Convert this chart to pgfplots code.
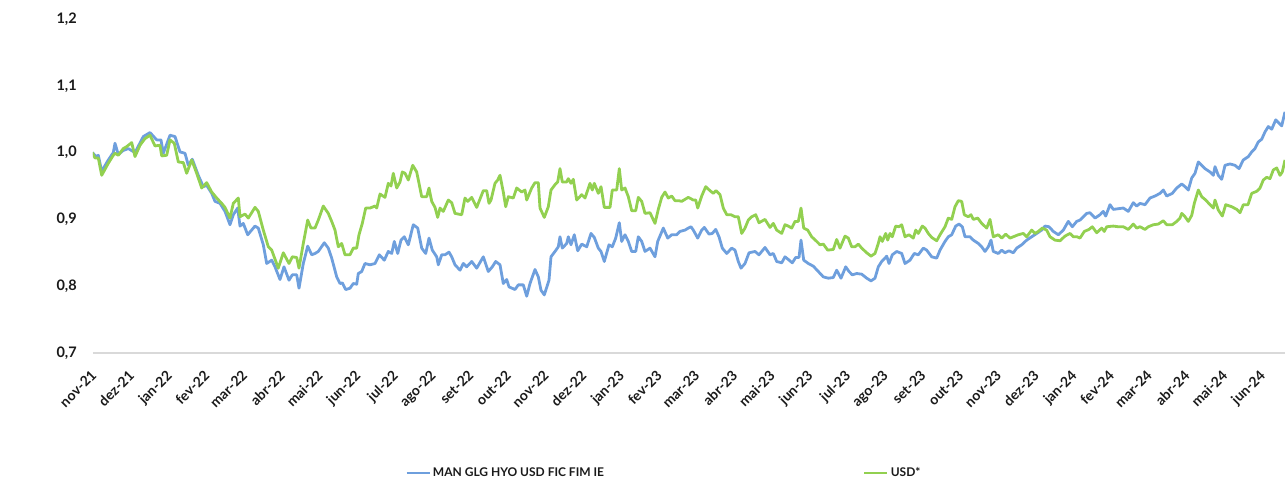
\documentclass[border=0pt]{standalone}
\usepackage{pgfplots}
\pgfplotsset{compat=1.18}
\usepackage{pgfplotstable}
\usepackage{fontspec}
\setmainfont{Lato}[BoldFont={Lato Bold}]
\definecolor{fundblue}{HTML}{6E9FDD}
\definecolor{usdgreen}{HTML}{92D050}
\definecolor{axisgray}{HTML}{D9D9D9}
\definecolor{txt}{HTML}{1A1A1A}

% x = horizontal position (month ticks every 37.7 units from nov-21 at 93)
\pgfplotstableread{
t v
92.5 1.000
96 0.994
98.3 0.996
101.7 0.972
108.3 0.989
113.3 1.000
115 1.014
118.3 0.997
123 1.003
128.3 1.006
135 1.000
143.3 1.024
150 1.030
156.7 1.019
161 1.019
163.3 0.999
170 1.026
175 1.024
180 1.001
185 0.999
188.3 0.981
192.3 0.990
198.3 0.966
203.3 0.949
206.7 0.951
211.7 0.939
215 0.927
220 0.924
225 0.912
230 0.892
233.3 0.907
237.7 0.917
240 0.890
243.3 0.894
247.7 0.877
255 0.890
258.3 0.887
263.3 0.862
266.7 0.834
271.7 0.839
275 0.829
280 0.810
284 0.829
289 0.809
292.3 0.817
296.7 0.817
299 0.797
303.3 0.834
307.7 0.860
311.7 0.847
315 0.849
318.3 0.852
324.3 0.865
328.3 0.857
331.7 0.842
336.7 0.814
340 0.804
342.3 0.805
345.7 0.795
350 0.797
353.3 0.804
356.7 0.803
358.3 0.819
361.7 0.822
365 0.834
370 0.832
375 0.834
379.3 0.847
384.3 0.839
388.3 0.852
391.7 0.849
394.3 0.867
397.7 0.849
401 0.869
404.3 0.874
408.3 0.862
413.3 0.892
417.7 0.887
421.7 0.857
425.7 0.849
429 0.872
432.3 0.854
436.7 0.844
438.3 0.832
441.7 0.847
445 0.847
449 0.851
451.7 0.844
455 0.832
460 0.824
463.3 0.834
466.7 0.829
471.7 0.837
476.7 0.827
483.3 0.844
488.3 0.822
492.3 0.829
495.7 0.837
500 0.832
503.3 0.804
506.7 0.810
509 0.799
515 0.795
518.3 0.802
523.3 0.802
526.7 0.785
530 0.804
535 0.825
538.3 0.814
541 0.794
544.3 0.787
549 0.809
551 0.844
555 0.852
558.3 0.859
560 0.874
562.3 0.857
566.7 0.864
568.3 0.874
571 0.862
574.3 0.877
577.7 0.853
581.7 0.863
586.7 0.859
591 0.879
594.3 0.873
598.3 0.857
601 0.852
604.3 0.837
609 0.862
612.3 0.859
615.7 0.872
619.3 0.895
621.7 0.867
625 0.877
628.3 0.867
631.7 0.852
635.7 0.852
638.3 0.874
641.7 0.867
645 0.852
650 0.857
655 0.844
657.7 0.867
663.3 0.887
667.7 0.872
671.7 0.877
676.7 0.877
680 0.882
685 0.884
688.3 0.887
691 0.889
693.3 0.884
697.7 0.872
701.7 0.884
704.3 0.888
709 0.878
712.3 0.879
715.7 0.885
719 0.874
722.3 0.857
726.7 0.849
731.7 0.857
735 0.854
738.3 0.837
741 0.827
745 0.834
749 0.850
755 0.852
759 0.847
765 0.858
770 0.847
773.3 0.849
776.7 0.837
781.7 0.835
785 0.844
788.3 0.840
792.3 0.835
795.7 0.843
799 0.843
801 0.869
803.7 0.839
808.3 0.834
813.3 0.830
818.3 0.822
823.3 0.814
828.3 0.812
833.3 0.813
836.7 0.824
841 0.812
845.7 0.829
849 0.822
852.3 0.817
856.7 0.819
861.7 0.818
866.7 0.812
871 0.808
875 0.812
878.3 0.829
881.7 0.837
885 0.842
886.7 0.845
889 0.834
892.3 0.847
896.7 0.852
901.7 0.849
905 0.834
910 0.839
914.3 0.849
918.3 0.847
923.3 0.857
926.7 0.854
931.7 0.844
936.7 0.842
940 0.854
945 0.867
948.3 0.874
951.7 0.877
955.7 0.890
959 0.893
962.3 0.889
965 0.874
970 0.874
973.3 0.869
978.3 0.864
981.7 0.859
985 0.852
988.3 0.859
991 0.869
993.3 0.852
998.3 0.849
1001.7 0.854
1005 0.850
1009 0.853
1013.3 0.850
1016.7 0.857
1021.7 0.862
1026.7 0.869
1031.7 0.874
1036.7 0.879
1041.7 0.884
1045 0.890
1049 0.889
1053.3 0.882
1058.3 0.877
1063.3 0.884
1068.3 0.897
1072.3 0.889
1076.7 0.897
1080 0.899
1083.3 0.904
1086.7 0.909
1090 0.910
1095 0.902
1100 0.907
1103.3 0.912
1105.7 0.905
1110 0.922
1113.3 0.915
1118.3 0.916
1123.3 0.917
1128.3 0.912
1133.3 0.925
1136.7 0.920
1140 0.924
1145 0.922
1150 0.932
1155 0.935
1160 0.939
1163.3 0.944
1166.7 0.935
1172.3 0.939
1176.7 0.947
1181.7 0.953
1185 0.949
1188.3 0.944
1191.7 0.962
1195 0.969
1198.3 0.986
1201.7 0.981
1205 0.976
1210 0.971
1213.3 0.966
1215 0.979
1218.3 0.966
1221.7 0.960
1225 0.981
1230 0.983
1235 0.981
1239 0.976
1243.3 0.989
1248.3 0.994
1251.7 1.001
1255 1.006
1258.3 1.016
1261.7 1.020
1265 1.031
1268.3 1.039
1271.7 1.035
1275.7 1.049
1279 1.044
1281.7 1.040
1285 1.061
}\fundtable

\pgfplotstableread{
t v
92.3 1.000
95 0.992
98.3 0.992
101.7 0.966
108.3 0.984
113.3 0.996
115 0.999
118.3 0.996
123.3 1.006
126.7 1.009
131.7 1.015
135 0.994
140 1.011
145 1.021
150 1.026
155 1.010
160 1.011
161.7 0.995
166.7 0.996
170 1.019
174.3 1.014
178.3 0.986
183.3 0.985
186.7 0.969
191.7 0.989
196.7 0.969
201.7 0.947
206.7 0.955
211.7 0.941
216.7 0.932
221.7 0.924
225 0.918
230 0.902
233.3 0.924
238.3 0.932
240 0.904
245 0.908
248.3 0.902
255 0.918
258.3 0.912
263.3 0.884
268.3 0.859
271.7 0.854
278.3 0.827
283.3 0.850
289 0.834
292.3 0.844
296.7 0.843
299 0.827
303.3 0.864
307.7 0.899
311 0.887
315 0.887
318.3 0.899
323.3 0.920
328.3 0.909
331.7 0.897
335 0.884
338.3 0.859
341.7 0.864
345 0.847
350 0.847
353.3 0.857
356.7 0.857
359 0.877
362.3 0.894
365.7 0.917
370 0.917
375 0.920
376.7 0.917
380 0.938
385 0.933
388.3 0.954
391 0.950
393.3 0.969
396.7 0.947
400 0.956
402.3 0.971
405 0.969
408.3 0.959
412.7 0.981
416.7 0.971
421.7 0.934
426.7 0.934
429 0.947
431.7 0.927
435 0.918
437.7 0.903
440 0.917
443.3 0.912
448.3 0.929
451.7 0.925
455 0.909
461.7 0.907
465 0.932
467.7 0.927
471.7 0.933
476.7 0.918
483.3 0.943
486.7 0.943
489 0.924
491 0.929
495 0.954
497.7 0.959
500 0.966
503.3 0.941
505.7 0.919
508.3 0.934
513.3 0.932
516.7 0.947
521.7 0.941
525 0.944
526.7 0.929
531.7 0.947
535 0.955
538.3 0.955
540 0.917
544.3 0.903
548.3 0.919
551 0.944
555 0.952
557.7 0.956
560 0.976
562.3 0.956
566.7 0.956
568.3 0.961
571 0.954
573.3 0.960
576.7 0.929
581.7 0.937
585 0.932
590 0.954
592.3 0.944
594.3 0.954
598.3 0.939
601 0.949
604.3 0.918
610 0.918
612.3 0.944
616.7 0.944
619.3 0.976
621.7 0.944
625 0.947
628.3 0.934
631.7 0.913
635.7 0.913
638.3 0.933
641.7 0.927
645 0.909
650 0.910
655 0.894
658.3 0.915
661.7 0.933
665 0.941
668.3 0.932
671.7 0.935
675 0.928
679 0.928
681.7 0.927
685 0.930
688.3 0.933
693.3 0.929
695.7 0.929
697.7 0.917
701.7 0.935
705.7 0.949
710 0.943
713.3 0.939
716 0.943
720 0.937
723.3 0.917
726.7 0.907
731 0.907
735 0.904
738.3 0.904
741.7 0.879
745 0.887
748.3 0.899
751.7 0.904
755.7 0.907
759 0.895
765 0.900
770 0.888
773.3 0.894
776.7 0.884
781.7 0.879
785 0.892
788.3 0.890
791.7 0.887
795 0.897
798.3 0.897
801 0.917
803.7 0.887
807.7 0.884
811.7 0.874
816.7 0.867
820 0.862
823.3 0.863
827.7 0.854
833.3 0.855
836.7 0.870
840 0.857
845 0.875
848.3 0.872
851.7 0.859
855 0.859
858.3 0.863
861.7 0.857
866.7 0.850
871 0.845
875 0.849
878.3 0.864
880 0.874
882.3 0.867
885.7 0.879
887.7 0.869
890 0.879
892.3 0.874
895.7 0.890
899 0.889
901.7 0.892
905 0.874
909 0.877
913.3 0.872
915.7 0.884
918.3 0.879
922.3 0.890
925 0.887
928.3 0.879
931.7 0.873
936.7 0.868
940 0.877
945 0.889
948.3 0.902
951.7 0.900
955 0.919
958.3 0.928
961.7 0.927
964.3 0.907
968.3 0.904
971 0.907
973.3 0.900
977.7 0.902
981.7 0.894
986.7 0.887
990 0.900
993.3 0.874
998.3 0.877
1001.7 0.872
1005.7 0.878
1010 0.872
1013.3 0.874
1018.3 0.877
1023.3 0.879
1026.7 0.874
1031.7 0.884
1035 0.879
1038.3 0.882
1042.3 0.887
1046.7 0.884
1050 0.874
1055 0.869
1060 0.868
1065 0.875
1070 0.879
1073.3 0.874
1077 0.874
1080 0.872
1084.3 0.882
1089 0.885
1092.3 0.889
1096.7 0.880
1101.7 0.887
1104.3 0.882
1106.7 0.889
1113.3 0.890
1118.3 0.889
1123.3 0.889
1128.3 0.885
1133.3 0.893
1136.7 0.887
1140 0.889
1145 0.885
1148.3 0.889
1153.3 0.892
1158.3 0.893
1163.3 0.898
1166.7 0.892
1172.3 0.892
1176.7 0.897
1180 0.902
1181.7 0.909
1185 0.904
1188.3 0.897
1191.7 0.906
1194.3 0.924
1198.3 0.944
1201.7 0.934
1205.7 0.929
1210 0.922
1213.3 0.917
1215 0.929
1218.3 0.914
1222.3 0.905
1225.7 0.922
1231.7 0.919
1236.7 0.915
1240 0.910
1243.3 0.922
1248 0.922
1251.7 0.939
1256.7 0.942
1260 0.947
1263.3 0.959
1266.7 0.963
1270 0.961
1273.3 0.974
1276.7 0.977
1280 0.966
1282.3 0.971
1285 0.989
}\usdtable

\begin{document}
\begin{tikzpicture}
\path[use as bounding box] (-93pt,-129pt) rectangle (1192pt,353pt);
\begin{axis}[
  at={(0pt,0pt)}, anchor=origin,
  scale only axis,
  width=1192pt, height=334pt,
  xmin=93, xmax=1285,
  ymin=0.7, ymax=1.2,
  ytick={0.7,0.8,...,1.2},
  xtick={93,130.7,...,1262},
  xticklabels={nov-21,dez-21,jan-22,fev-22,mar-22,abr-22,mai-22,jun-22,jul-22,ago-22,set-22,out-22,nov-22,dez-22,jan-23,fev-23,mar-23,abr-23,mai-23,jun-23,jul-23,ago-23,set-23,out-23,nov-23,dez-23,jan-24,fev-24,mar-24,abr-24,mai-24,jun-24},
  axis x line*=bottom,
  axis y line*=left,
  x axis line style={draw=axisgray, line width=1.3pt, -},
  y axis line style={draw=none},
  tick style={draw=none},
  /pgf/number format/.cd, use comma, fixed, fixed zerofill, precision=1, assume math mode=true,
  /pgfplots/.cd,
  yticklabel style={font=\fontsize{14.5}{16}\selectfont\bfseries, text=txt, anchor=east, inner sep=0pt, xshift=-16pt},
  xticklabel style={font=\fontsize{14}{16}\selectfont\bfseries, text=txt, inner sep=0pt, xshift=-3pt, yshift=-16pt, rotate=45, anchor=north east},
  legend columns=2,
  legend style={at={(0.2617,-0.359)}, anchor=west, draw=none, fill=none, inner sep=0pt,
    font=\fontsize{12}{15}\selectfont\bfseries, text=txt,
    /tikz/every even column/.append style={column sep=257pt}},
  legend image code/.code={\draw[#1] (0pt,0pt) -- (23pt,0pt);},
  clip=true,
]
\addplot[fundblue, line width=2.8pt, line join=round] table[x=t, y=v] {\fundtable};
\addlegendentry{MAN GLG HYO USD FIC FIM IE}
\addplot[usdgreen, line width=2.8pt, line join=round] table[x=t, y=v] {\usdtable};
\addlegendentry{USD*}
\end{axis}
\end{tikzpicture}
\end{document}
